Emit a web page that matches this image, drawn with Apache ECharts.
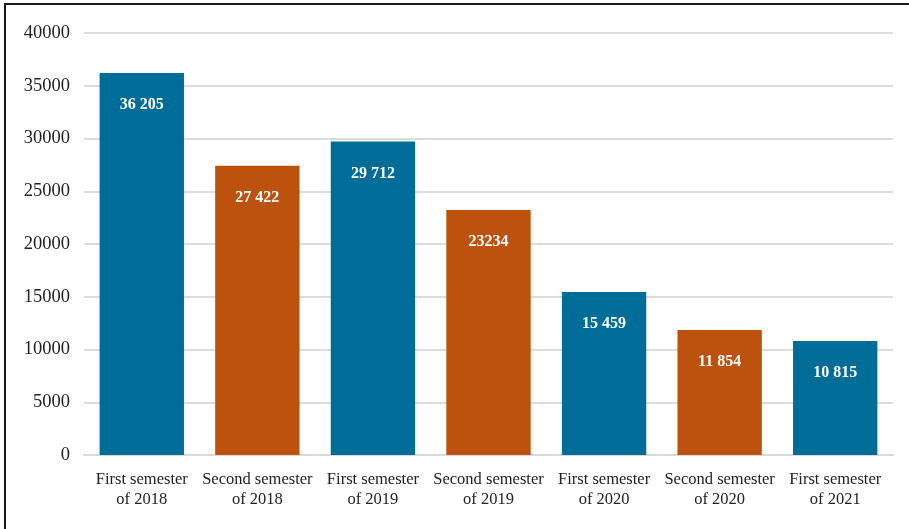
<!DOCTYPE html>
<html>
<head>
<meta charset="utf-8">
<script src="https://cdn.jsdelivr.net/npm/echarts@6/dist/echarts.min.js"></script>
<style>
  html, body { margin: 0; padding: 0; background: #fff; }
  #chart { width: 909px; height: 529px; }
</style>
</head>
<body>
<div id="chart"></div>
<script>
var categories = [
  "First semester\nof 2018",
  "Second semester\nof 2018",
  "First semester\nof 2019",
  "Second semester\nof 2019",
  "First semester\nof 2020",
  "Second semester\nof 2020",
  "First semester\nof 2021"
];
var values = [36205, 27422, 29712, 23234, 15459, 11854, 10815];
var valueLabels = ["36 205", "27 422", "29 712", "23234", "15 459", "11 854", "10 815"];
var barColors = ["#006d98", "#bd520e", "#006d98", "#bd520e", "#006d98", "#bd520e", "#006d98"];

var serif = "'Liberation Serif', 'DejaVu Serif', serif";

var myChart = echarts.init(document.getElementById("chart"));
var option = {
  animation: false,
  backgroundColor: "#fff",
  textStyle: { fontFamily: serif },
  grid: { left: 84, right: 16, top: 33, bottom: 74 },
  graphic: [
    {
      type: "polyline",
      shape: { points: [[5, 529], [5, 4], [909, 4]] },
      style: { stroke: "#1a1a1a", lineWidth: 2, fill: null }
    }
  ],
  xAxis: {
    type: "category",
    data: categories,
    axisLine: { lineStyle: { color: "#d9d9d9", width: 2 } },
    axisTick: { inside: true, length: 12, lineStyle: { color: "#d9d9d9", width: 2 } },
    axisLabel: {
      interval: 0,
      color: "#222",
      fontSize: 16.5,
      lineHeight: 20,
      margin: 15,
      fontFamily: serif
    }
  },
  yAxis: {
    type: "value",
    min: 0,
    max: 40000,
    interval: 5000,
    axisLine: { show: false },
    axisTick: { show: false },
    splitLine: { lineStyle: { color: "#dcdcdc", width: 2 } },
    axisLabel: {
      color: "#222",
      fontSize: 18.5,
      margin: 14,
      fontFamily: serif,
      formatter: function (v) { return String(v); }
    }
  },
  series: [
    {
      type: "bar",
      barCategoryGap: "27%",
      data: values.map(function (v, i) {
        return { value: v, itemStyle: { color: barColors[i] } };
      }),
      label: {
        show: true,
        position: "insideTop",
        distance: 24,
        color: "#fff",
        fontWeight: "bold",
        fontSize: 16,
        fontFamily: serif,
        formatter: function (p) {
          return valueLabels[p.dataIndex];
        }
      }
    }
  ]
};
myChart.setOption(option);
</script>
</body>
</html>
